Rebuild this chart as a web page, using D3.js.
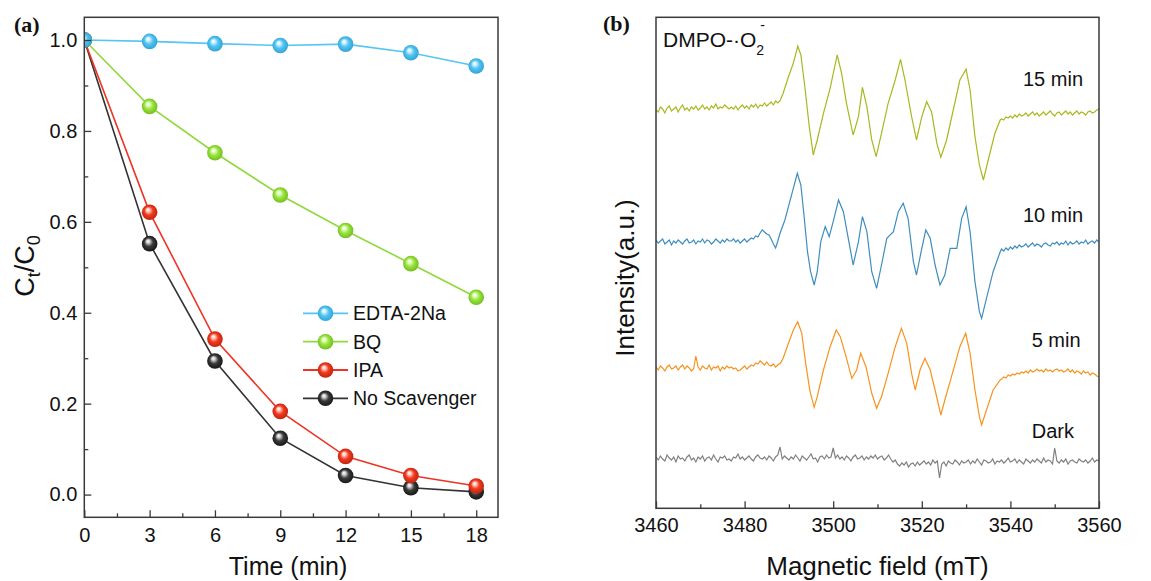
<!DOCTYPE html>
<html><head><meta charset="utf-8">
<script src="https://cdn.jsdelivr.net/npm/d3@7"></script>
<style>body{margin:0;background:#fff}svg{display:block}</style>
</head><body><svg id="c" width="1151" height="581" font-family="Arial, 'Liberation Sans', sans-serif"></svg>
<script>
// ---------- Panel (a) data ----------
const times = [0, 3, 6, 9, 12, 15, 18];
const seriesNames = ["EDTA-2Na", "BQ", "IPA", "No Scavenger"];
const edta = [1.0, 0.997, 0.992, 0.988, 0.991, 0.972, 0.943];
const bq = [1.0, 0.854, 0.752, 0.659, 0.581, 0.508, 0.434];
const ipa = [1.0, 0.621, 0.342, 0.183, 0.084, 0.042, 0.019];
const noScav = [1.0, 0.552, 0.294, 0.124, 0.042, 0.015, 0.006];
const xTicksA = [0, 3, 6, 9, 12, 15, 18];
const yTicksA = [0.0, 0.2, 0.4, 0.6, 0.8, 1.0];

// ---------- Panel (b) data (intensity relative to each trace baseline, a.u.) ----------
const fieldTicks = [3460, 3480, 3500, 3520, 3540, 3560];
const traceLabels = ["15 min", "10 min", "5 min", "Dark"];
const traceOffsets = [398, 266, 140, 48];
// left baselines sampled every 0.5 mT from 3460, right baselines every 0.5 mT from 3538
const t15Left = [0,-2,3,1,-3,2,4,-1,1,3,-2,2,5,0,2,-1,3,1,4,0,2,5,1,3,0,4,2,6,1,3,2,5,3,1,
  3,1,4,0,3,5,2,4,1,5,3,6,2,5,4,7,4,6,8,5,9,7];
const t15Signal = [[3488.0,9.3],[3488.7,16.7],[3489.9,33.3],[3491.0,46.7],[3492.0,64],[3492.7,55],[3493.6,23.3],[3494.6,-16.7],[3495.5,-45],[3496.4,-30],[3497.8,-3.3],[3499.3,21.7],[3500.9,55],[3501.9,36.7],[3503.0,6.7],[3504.5,-25],[3505.7,-6.7],[3506.6,22.7],[3507.6,3.3],[3508.7,-30],[3509.7,-46.7],[3510.9,-23.3],[3512.4,6.7],[3514.0,30],[3515.2,50.7],[3516.2,30],[3517.7,-6.7],[3518.8,-30],[3520.0,-6.7],[3521.1,8.3],[3522.2,-1.7],[3523.4,-33.3],[3524.3,-47.3],[3525.6,-30],[3527.1,0],[3528.6,30],[3530.0,40.7],[3530.9,20],[3532.0,-26.7],[3533.0,-55],[3533.9,-70],[3535.0,-50],[3536.5,-23.3],[3537.7,-10]];
const t15Right = [-9,-10,-7,-8,-6,-8,-5,-7,-4,-6,-5,-3,-6,-4,-2,-5,-3,-6,-4,-2,-5,-3,-1,-4,-6,-3,-2,-5,-3,-1,-4,-2,-5,-3,-1,-4,-2,-3,-5,-2,-1,-3,-2,0,1];

const t10Left = [2,-1,1,3,-2,0,2,-3,1,-1,2,0,-2,1,3,-1,0,2,-2,1,0,3,-1,2,1,-2,0,3,1,-1,2,0,3,1,
  1,3,0,2,-1,1,3,0,2,4,3,6,5,9,12,10,8,7,3,-2,-6,1];
const t10Signal = [[3488,8.7],[3489.1,22],[3490.2,40.3],[3491,53.7],[3491.9,68.7],[3492.7,57],[3493.4,27],[3494.2,-9.7],[3494.9,-29.7],[3495.7,-43],[3496.4,-29.7],[3497.2,0.3],[3498.2,15.3],[3499.1,5.3],[3500,20.3],[3501.2,42],[3502.3,30.3],[3503.4,3.7],[3504.5,-23],[3505.7,0.3],[3506.6,25.3],[3507.6,10.3],[3508.7,-29.7],[3509.8,-46.3],[3510.9,-23],[3512.1,3.7],[3513.6,10.3],[3514.7,30.3],[3515.8,38.7],[3516.9,23.7],[3518.1,-19.7],[3518.8,-33],[3520,-6.3],[3520.9,12],[3521.9,3.7],[3523,-23],[3524.1,-43],[3525.2,-33],[3526.4,-6.3],[3527.9,-6.3],[3529,23.7],[3530,35.3],[3530.9,10.3],[3532,-39.7],[3533,-69.7],[3533.5,-76.3],[3534.6,-56.3],[3536.1,-29.7],[3537.7,-9.7]];
const t10Right = [-7,-9,-6,-8,-5,-7,-4,-6,-3,-5,-4,-2,-5,-3,-1,-4,-2,-3,-5,-2,-1,-3,-4,-1,-2,0,-3,-1,-2,1,-3,0,-2,-1,1,-2,0,-1,2,-2,0,1,-1,2,0];

const t5Left = [1,-2,2,0,-3,1,3,-1,0,2,-2,1,3,-1,2,0,-3,-1,12,1,-2,2,0,-1,3,-2,1,0,2,-3,1,-1,2,0,
  1,-1,0,-3,-2,0,2,-1,1,3,2,5,4,7,5,3,6,3,2,4,1,3];
const t5Signal = [[3488.1,5],[3488.7,9.7],[3489.9,24.7],[3491,38],[3492,46.3],[3492.9,34.7],[3493.8,4.7],[3494.7,-22],[3495.7,-39.3],[3496.4,-28.7],[3497.8,-2],[3499.3,21.3],[3500.7,38],[3501.6,31.3],[3502.7,14.7],[3504.2,-10.3],[3505.3,-2],[3506.2,14.7],[3507.4,1.3],[3508.7,-25.3],[3509.8,-40.3],[3510.9,-28.7],[3512.4,-5.3],[3514,21.3],[3515.4,39.7],[3516.6,24.7],[3517.7,-5.3],[3518.5,-22],[3519.6,-2],[3520.7,9.7],[3521.9,-2],[3523,-22],[3524.3,-47],[3525.2,-32],[3526.7,-8.7],[3528.6,21.3],[3529.9,34.7],[3530.9,14.7],[3532,-22],[3533,-48.7],[3533.5,-57],[3534.6,-42],[3536.1,-22],[3537.7,-12]];
const t5Right = [-11,-9,-10,-7,-8,-6,-7,-5,-6,-4,-5,-3,-5,-2,-4,-3,-1,-3,-2,-4,-1,-3,-2,-4,-2,-1,-3,-2,-4,-3,-1,-4,-2,-5,-3,-4,-6,-3,-5,-4,-7,-5,-6,-8,-9];

// dark trace sampled every 0.5 mT from 3460 to 3560
const tDark = [3,0,4,1,-1,5,2,0,3,-2,4,1,2,-1,3,5,0,2,-2,3,
  1,4,-1,2,3,0,5,1,-2,3,2,4,0,1,-1,3,2,6,1,3,
  0,2,4,1,-1,3,5,2,1,3,0,4,2,-1,3,5,13,1,4,2,
  0,3,1,5,2,-1,4,2,0,3,6,1,2,-2,3,4,1,5,2,3,
  12,2,5,1,3,0,4,2,-1,3,5,1,2,4,0,3,1,4,2,5,
  1,3,4,0,2,5,1,-2,0,-4,-6,-3,-5,-2,-7,-4,-3,-6,-2,-5,
  -3,-1,-4,-2,-5,0,-3,-1,-18,-4,-2,-6,-1,-3,-4,0,-2,-5,-1,-3,
  -2,0,-4,-1,-3,1,-2,-5,0,-1,-3,-2,1,-4,-1,-2,0,-3,-1,2,
  -2,-1,1,-3,0,-2,-4,1,-1,-3,0,-2,1,-1,-3,2,-2,0,-1,-4,
  12,-1,-3,0,-2,1,-4,-1,0,-2,-3,1,-1,-2,0,-3,-1,2,-2,0,-1];

// ---------- build ----------
const svg = d3.select("#c");
const frameColor = "#3a3a3a";
const sans = "Arial, 'Liberation Sans', sans-serif";
const serif = "'Times New Roman', 'Liberation Serif', serif";

// ===== Panel (a) =====
const xa = d3.scaleLinear().domain([0, 19]).range([84.3, 498]);
const ya = d3.scaleLinear().domain([-0.05, 1.05]).range([517.3, 17.3]);
const seriesVals = [edta, bq, ipa, noScav];
const lineCols = ["#55C6F2", "#8FD93A", "#EE3424", "#333333"];
const ballBase = ["#52C4F1", "#9BE43C", "#F23B1F", "#3B3B3B"];
const ballDark = ["#2C9ED3", "#6CB81E", "#B8200C", "#111111"];
const ballLight = ["#D8F4FF", "#E6FFD0", "#FFD3C8", "#D8D8D8"];

const defs = svg.append("defs");
ballBase.forEach((c, i) => {
  const g = defs.append("radialGradient").attr("id", "ball" + i)
    .attr("cx", "50%").attr("cy", "50%").attr("r", "55%").attr("fx", "38%").attr("fy", "32%");
  g.append("stop").attr("offset", "0%").attr("stop-color", "#ffffff");
  g.append("stop").attr("offset", "18%").attr("stop-color", ballLight[i]);
  g.append("stop").attr("offset", "50%").attr("stop-color", c);
  g.append("stop").attr("offset", "100%").attr("stop-color", ballDark[i]);
});
defs.append("clipPath").attr("id", "clipA").append("rect")
  .attr("x", 84.3).attr("y", 17.3).attr("width", 498 - 84.3).attr("height", 500);
defs.append("clipPath").attr("id", "clipB").append("rect")
  .attr("x", 656).attr("y", 17.3).attr("width", 1099 - 656).attr("height", 491);

const gA = svg.append("g");
const plotA = gA.append("g").attr("clip-path", "url(#clipA)");
const lineA = d3.line().x((d, i) => xa(times[i])).y(d => ya(d));
const order = [3, 2, 1, 0];
order.forEach(k => {
  plotA.append("path").attr("d", lineA(seriesVals[k])).attr("fill", "none")
    .attr("stroke", lineCols[k]).attr("stroke-width", 1.6);
});
order.forEach(k => {
  plotA.selectAll(null).data(seriesVals[k]).enter().append("circle")
    .attr("cx", (d, i) => xa(times[i])).attr("cy", d => ya(d)).attr("r", 7.8)
    .attr("fill", "url(#ball" + k + ")");
});

// frame & axes (a)
gA.append("rect").attr("x", 84.3).attr("y", 17.3).attr("width", 498 - 84.3).attr("height", 500)
  .attr("fill", "none").attr("stroke", frameColor).attr("stroke-width", 1.5);
const axBA = gA.append("g").attr("transform", "translate(0,517.3)")
  .call(d3.axisBottom(xa).tickValues(xTicksA).tickFormat(d3.format("d")).tickSize(-7).tickPadding(10.5));
const axBAm = gA.append("g").attr("transform", "translate(0,517.3)")
  .call(d3.axisBottom(xa).tickValues([1.5, 4.5, 7.5, 10.5, 13.5, 16.5]).tickFormat("").tickSize(-4));
const axLA = gA.append("g").attr("transform", "translate(84.3,0)")
  .call(d3.axisLeft(ya).tickValues(yTicksA).tickFormat(d3.format(".1f")).tickSize(-7).tickPadding(7));
const axLAm = gA.append("g").attr("transform", "translate(84.3,0)")
  .call(d3.axisLeft(ya).tickValues([0.1, 0.3, 0.5, 0.7, 0.9]).tickFormat("").tickSize(-4));
[axBA, axBAm, axLA, axLAm].forEach(a => {
  a.select(".domain").remove();
  a.selectAll("line").attr("stroke", frameColor).attr("stroke-width", 1.3);
  a.selectAll("text").attr("font-size", 20).attr("fill", "#111").attr("font-family", sans);
});
gA.append("text").attr("x", 288).attr("y", 575).attr("text-anchor", "middle")
  .attr("font-size", 25).attr("fill", "#111").text("Time (min)");
const yt = gA.append("text").attr("transform", "translate(34,266) rotate(-90)")
  .attr("text-anchor", "middle").attr("font-size", 27).attr("fill", "#111");
yt.append("tspan").text("C");
yt.append("tspan").attr("font-size", 18).attr("dy", 6).text("t");
yt.append("tspan").attr("dy", -6).text("/C");
yt.append("tspan").attr("font-size", 18).attr("dy", 6).text("0");
gA.append("text").attr("x", 14).attr("y", 32).attr("font-family", serif)
  .attr("font-weight", "bold").attr("font-size", 22).attr("fill", "#111").text("(a)");

// legend (a)
const legRows = [313.3, 341.7, 370, 398.3];
seriesNames.forEach((n, k) => {
  const ly = legRows[k];
  gA.append("line").attr("x1", 303).attr("x2", 348).attr("y1", ly).attr("y2", ly)
    .attr("stroke", lineCols[k]).attr("stroke-width", 1.8);
  gA.append("circle").attr("cx", 325.5).attr("cy", ly).attr("r", 7.8).attr("fill", "url(#ball" + k + ")");
  gA.append("text").attr("x", 353).attr("y", ly + 7).attr("font-size", 19.5).attr("fill", "#111").text(n);
});

// ===== Panel (b) =====
const xb = d3.scaleLinear().domain([3460, 3560]).range([656, 1099]);
const yb = d3.scaleLinear().domain([0, 491]).range([508, 17]);
const traceCols = ["#A8B81E", "#3E8DBE", "#F7931E", "#808080"];
const half = 0.5;
function buildTrace(left, signal, right) {
  return left.map((v, i) => [3460 + i * half, v])
    .concat(signal)
    .concat(right.map((v, i) => [3538 + i * half, v]));
}
const traces = [
  buildTrace(t15Left, t15Signal, t15Right),
  buildTrace(t10Left, t10Signal, t10Right),
  buildTrace(t5Left, t5Signal, t5Right),
  tDark.map((v, i) => [3460 + i * half, v])
];
const gB = svg.append("g");
const plotB = gB.append("g").attr("clip-path", "url(#clipB)");
traces.forEach((tr, k) => {
  const off = traceOffsets[k];
  plotB.append("path").datum(tr)
    .attr("d", d3.line().x(d => xb(d[0])).y(d => yb(d[1] + off)))
    .attr("fill", "none").attr("stroke", traceCols[k]).attr("stroke-width", 1.2);
});
gB.append("rect").attr("x", 656).attr("y", 17.3).attr("width", 1099 - 656).attr("height", 491)
  .attr("fill", "none").attr("stroke", frameColor).attr("stroke-width", 1.5);
const axBB = gB.append("g").attr("transform", "translate(0,508.3)")
  .call(d3.axisBottom(xb).tickValues(fieldTicks).tickFormat(d3.format("d")).tickSize(-7).tickPadding(10));
const axBBm = gB.append("g").attr("transform", "translate(0,508.3)")
  .call(d3.axisBottom(xb).tickValues([3470, 3490, 3510, 3530, 3550]).tickFormat("").tickSize(-4));
[axBB, axBBm].forEach(a => {
  a.select(".domain").remove();
  a.selectAll("line").attr("stroke", frameColor).attr("stroke-width", 1.3);
  a.selectAll("text").attr("font-size", 20).attr("fill", "#111").attr("font-family", sans);
});
gB.append("text").attr("x", 877.5).attr("y", 575).attr("text-anchor", "middle")
  .attr("font-size", 26).attr("fill", "#111").text("Magnetic field (mT)");
gB.append("text").attr("transform", "translate(634,278) rotate(-90)").attr("text-anchor", "middle")
  .attr("font-size", 26).attr("fill", "#111").text("Intensity(a.u.)");
gB.append("text").attr("x", 603).attr("y", 31).attr("font-family", serif)
  .attr("font-weight", "bold").attr("font-size", 22).attr("fill", "#111").text("(b)");
const dm = gB.append("text").attr("x", 663).attr("y", 46.7).attr("font-size", 21).attr("fill", "#111");
dm.append("tspan").text("DMPO-\u00B7O");
dm.append("tspan").attr("font-size", 14).attr("dy", 8).text("2");
dm.append("tspan").attr("font-size", 14).attr("dx", -4).attr("dy", -25).text("-");
const labelPos = [[1023, 86], [1023, 221.7], [1031.7, 346.7], [1031.7, 438.3]];
traceLabels.forEach((t, k) => {
  gB.append("text").attr("x", labelPos[k][0]).attr("y", labelPos[k][1])
    .attr("font-size", 20).attr("fill", "#111").text(t);
});
</script></body></html>
